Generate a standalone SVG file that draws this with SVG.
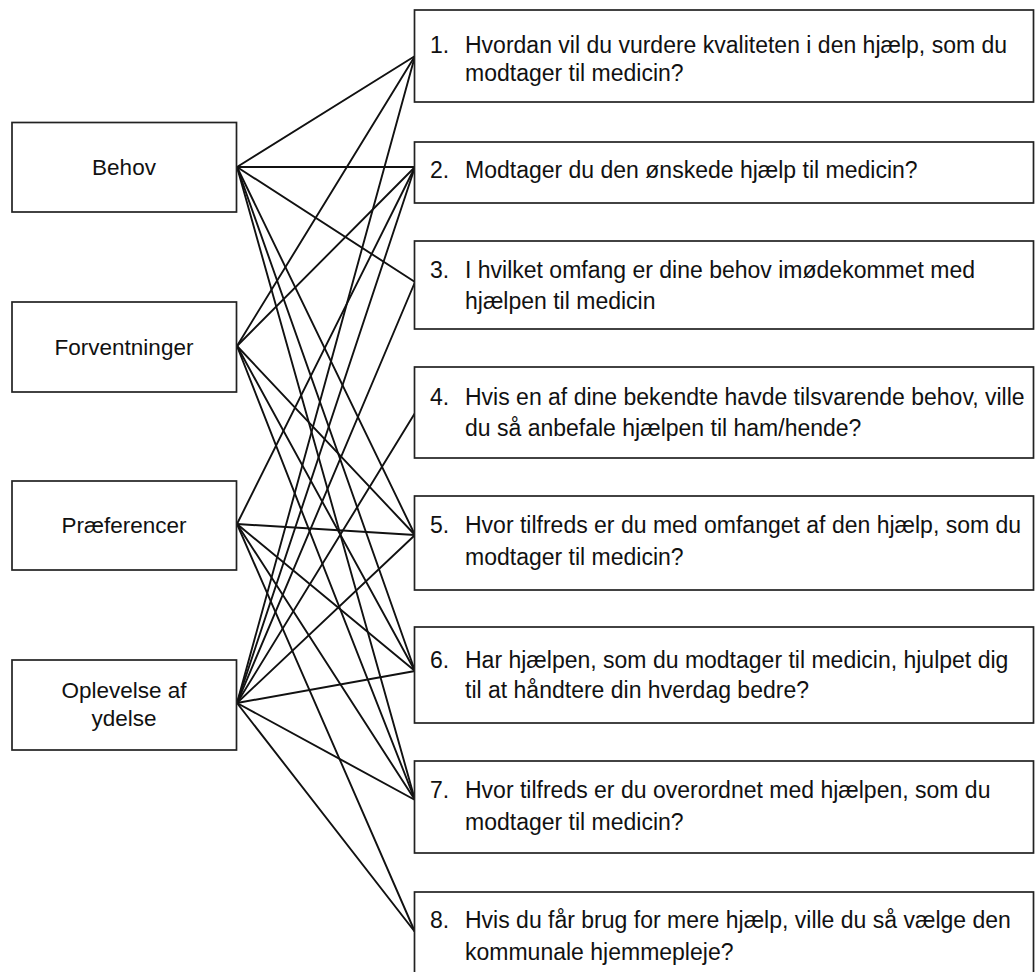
<svg xmlns="http://www.w3.org/2000/svg" width="1035" height="972" viewBox="0 0 1035 972">
  <style>
    .box { fill: #ffffff; stroke: #222222; stroke-width: 1.7; }
    .lbl { font-family: "Liberation Sans", Arial, sans-serif; font-size: 22.5px; fill: #111111; }
    .q { font-size: 23px; }
    .mid { text-anchor: middle; }
    .link { stroke: #111111; stroke-width: 1.9; fill: none; stroke-linecap: round; }
  </style>
  <rect width="1035" height="972" fill="#ffffff"/>

  <!-- connectors: each factor linked to the questions that measure it -->
  <g id="connectors" class="link">
    <!-- Behov -->
    <line x1="237" y1="167" x2="415" y2="56"/>
    <line x1="237" y1="167" x2="415" y2="167"/>
    <line x1="237" y1="167" x2="415" y2="282"/>
    <line x1="237" y1="167" x2="415" y2="535"/>
    <line x1="237" y1="167" x2="415" y2="671"/>
    <line x1="237" y1="167" x2="415" y2="800"/>
    <!-- Forventninger -->
    <line x1="237" y1="346" x2="415" y2="56"/>
    <line x1="237" y1="346" x2="415" y2="167"/>
    <line x1="237" y1="346" x2="415" y2="535"/>
    <line x1="237" y1="346" x2="415" y2="671"/>
    <line x1="237" y1="346" x2="415" y2="800"/>
    <!-- Præferencer -->
    <line x1="237" y1="524" x2="415" y2="167"/>
    <line x1="237" y1="524" x2="415" y2="535"/>
    <line x1="237" y1="524" x2="415" y2="671"/>
    <line x1="237" y1="524" x2="415" y2="800"/>
    <line x1="237" y1="524" x2="415" y2="932"/>
    <!-- Oplevelse af ydelse -->
    <line x1="237" y1="703" x2="415" y2="56"/>
    <line x1="237" y1="703" x2="415" y2="167"/>
    <line x1="237" y1="703" x2="415" y2="282"/>
    <line x1="237" y1="703" x2="415" y2="413"/>
    <line x1="237" y1="703" x2="415" y2="535"/>
    <line x1="237" y1="703" x2="415" y2="671"/>
    <line x1="237" y1="703" x2="415" y2="800"/>
    <line x1="237" y1="703" x2="415" y2="932"/>
  </g>

  <!-- factor nodes -->
  <g id="behov">
    <rect class="box" x="12" y="122.5" width="224.5" height="89.5"/>
    <text class="lbl mid" x="124" y="175">Behov</text>
  </g>
  <g id="forventninger">
    <rect class="box" x="12" y="302" width="224.5" height="90"/>
    <text class="lbl mid" x="124" y="355">Forventninger</text>
  </g>
  <g id="praeferencer">
    <rect class="box" x="12" y="481" width="224.5" height="89"/>
    <text class="lbl mid" x="124" y="533">Præferencer</text>
  </g>
  <g id="oplevelse">
    <rect class="box" x="12" y="660" width="224.5" height="90"/>
    <text class="lbl mid" x="124" y="698">Oplevelse af</text>
    <text class="lbl mid" x="124" y="726">ydelse</text>
  </g>

  <!-- question nodes -->
  <g id="q1">
    <rect class="box" x="414.5" y="10" width="619" height="92"/>
    <text class="lbl q" x="430" y="53">1.</text>
    <text class="lbl q" x="465" y="53">Hvordan vil du vurdere kvaliteten i den hjælp, som du</text>
    <text class="lbl q" x="465" y="81">modtager til medicin?</text>
  </g>
  <g id="q2">
    <rect class="box" x="414.5" y="142" width="619" height="61"/>
    <text class="lbl q" x="430" y="178">2.</text>
    <text class="lbl q" x="465" y="178">Modtager du den ønskede hjælp til medicin?</text>
  </g>
  <g id="q3">
    <rect class="box" x="414.5" y="241" width="619" height="88"/>
    <text class="lbl q" x="430" y="278">3.</text>
    <text class="lbl q" x="465" y="278">I hvilket omfang er dine behov imødekommet med</text>
    <text class="lbl q" x="465" y="309">hjælpen til medicin</text>
  </g>
  <g id="q4">
    <rect class="box" x="414.5" y="367" width="619" height="91"/>
    <text class="lbl q" x="430" y="405">4.</text>
    <text class="lbl q" x="465" y="405">Hvis en af dine bekendte havde tilsvarende behov, ville</text>
    <text class="lbl q" x="465" y="436">du så anbefale hjælpen til ham/hende?</text>
  </g>
  <g id="q5">
    <rect class="box" x="414.5" y="496" width="619" height="94"/>
    <text class="lbl q" x="430" y="533">5.</text>
    <text class="lbl q" x="465" y="533">Hvor tilfreds er du med omfanget af den hjælp, som du</text>
    <text class="lbl q" x="465" y="565">modtager til medicin?</text>
  </g>
  <g id="q6">
    <rect class="box" x="414.5" y="627" width="619" height="96"/>
    <text class="lbl q" x="430" y="668">6.</text>
    <text class="lbl q" x="465" y="668">Har hjælpen, som du modtager til medicin, hjulpet dig</text>
    <text class="lbl q" x="465" y="698">til at håndtere din hverdag bedre?</text>
  </g>
  <g id="q7">
    <rect class="box" x="414.5" y="761" width="619" height="92"/>
    <text class="lbl q" x="430" y="798">7.</text>
    <text class="lbl q" x="465" y="798">Hvor tilfreds er du overordnet med hjælpen, som du</text>
    <text class="lbl q" x="465" y="830">modtager til medicin?</text>
  </g>
  <g id="q8">
    <rect class="box" x="414.5" y="892" width="619" height="90"/>
    <text class="lbl q" x="430" y="928">8.</text>
    <text class="lbl q" x="465" y="928">Hvis du får brug for mere hjælp, ville du så vælge den</text>
    <text class="lbl q" x="465" y="960">kommunale hjemmepleje?</text>
  </g>
</svg>
